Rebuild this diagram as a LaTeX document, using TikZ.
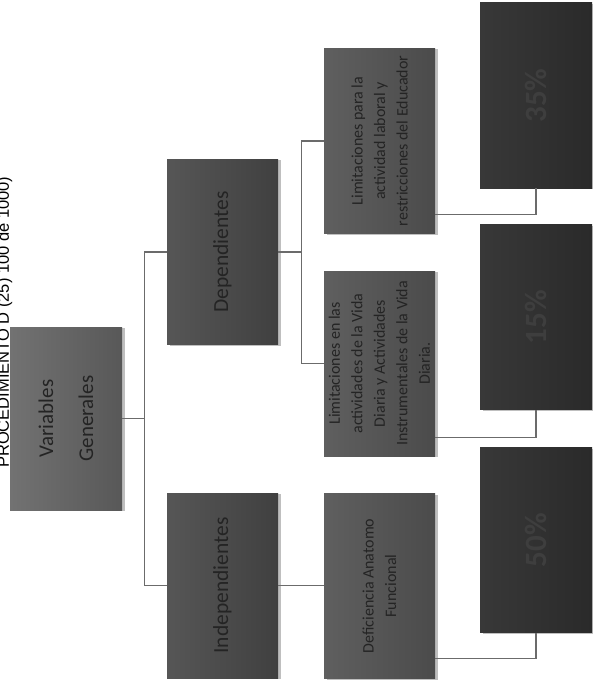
\documentclass[tikz,border=0pt]{standalone}
\usepackage{fontspec}
\setmainfont{Carlito}
\newfontfamily\titlefont{Liberation Sans}
\usetikzlibrary{shadows,calc}
\definecolor{vl}{HTML}{727272}
\definecolor{vr}{HTML}{585858}
\definecolor{dl}{HTML}{565656}
\definecolor{dr}{HTML}{404040}
\definecolor{ll}{HTML}{5f5f5f}
\definecolor{lr}{HTML}{4b4b4b}
\definecolor{pl}{HTML}{383838}
\definecolor{pr}{HTML}{2a2a2a}
\definecolor{txt}{HTML}{242424}
\definecolor{pct}{HTML}{3e3e3e}
\definecolor{line}{HTML}{6b6b6b}
\begin{document}
\begin{tikzpicture}[x=1pt,y=-1pt,
  box/.style={rectangle, minimum width=111pt, minimum height=185pt, inner sep=0pt,
    drop shadow={shadow xshift=3pt, shadow yshift=-1pt, opacity=0.25, fill=black}},
  vbox/.style={box, left color=vl, right color=vr, minimum width=112pt, minimum height=183pt},
  dbox/.style={box, left color=dl, right color=dr},
  lbox/.style={box, left color=ll, right color=lr},
  pbox/.style={box, left color=pl, right color=pr, minimum width=112pt},
  lbl/.style={rotate=90, align=center, text=txt, inner sep=0pt},
  big/.style={lbl, font=\fontsize{21.5}{26}\selectfont},
  small/.style={lbl, font=\fontsize{16}{22.5}\selectfont},
  pctlbl/.style={rotate=90, text=pct, inner sep=0pt, font=\fontsize{31}{36}\selectfont\bfseries},
  conn/.style={draw=line, line width=1.3pt}]
\useasboundingbox (0,0) rectangle (593,687);

% title (cut off at the left edge, as in the reference)
\node[rotate=90, anchor=base west, inner sep=0pt, text=black,
      font=\titlefont\fontsize{16.5}{19}\selectfont] (title) at (9,468)
      {PROCEDIMIENTO D (25) 100 de 1000)};

% boxes
\node[vbox] (v) at (66,418.5) {};
\node[lbl, font=\fontsize{21}{40}\selectfont] (vt) at (v) {Variables\\Generales};

\node[dbox] (dep) at (222.5,252) {};
\node[big] (dept) at (dep) {Dependientes};
\node[dbox] (ind) at (222.5,585.5) {};
\node[big] (indt) at (ind) {Independientes};

\node[lbox] (l1) at (379.5,141) {};
\node[small] (l1t) at (l1) {Limitaciones para la\\actividad laboral y\\restricciones del Educador};
\node[lbox] (l2) at (379.5,363.5) {};
\node[small] (l2t) at (l2) {Limitaciones en las\\actividades de la Vida\\Diaria y Actividades\\Instrumentales de la Vida\\Diaria.};
\node[lbox] (def) at (379.5,586) {};
\node[small] (deft) at (def) {Deficiencia Anatomo\\Funcional};

\node[pbox] (p35) at (536,95.5) {};
\node[pctlbl] (p35t) at (p35) {35\%};
\node[pbox] (p15) at (536,317) {};
\node[pctlbl] (p15t) at (p15) {15\%};
\node[pbox] (p50) at (536,540) {};
\node[pctlbl] (p50t) at (p50) {50\%};

% connectors
\draw[conn] (v.east) -- ++(22,0) coordinate (trunk) |- (dep.west);
\draw[conn] (trunk) |- (ind.west);
\draw[conn] (dep.east) -- ++(23,0) coordinate (br) |- (l1.west);
\draw[conn] (br) |- (l2.west);
\draw[conn] (ind.east) -- (ind.east -| def.west);
\draw[conn] ([yshift=19pt]l1.south east) -| (p35.south);
\draw[conn] ([yshift=19pt]l2.south east) -| (p15.south);
\draw[conn] ([yshift=20pt]def.south east) -| (p50.south);
\end{tikzpicture}
\end{document}
